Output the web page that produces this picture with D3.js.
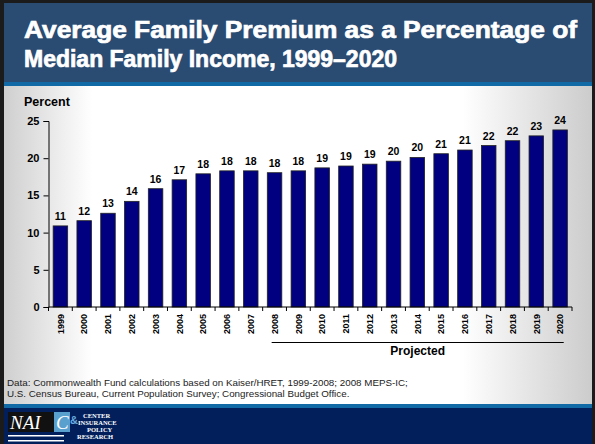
<!DOCTYPE html>
<html>
<head>
<meta charset="utf-8">
<script src="https://cdn.jsdelivr.net/npm/d3@7"></script>
<style>
  html, body { margin: 0; padding: 0; background: #1a1a1a; }
  svg { display: block; }
  text { font-family: "Liberation Sans", Arial, sans-serif; }
</style>
</head>
<body>
<script>
// Average family premium as % of median family income, by year
const years = ["1999","2000","2001","2002","2003","2004","2005","2006","2007","2008","2009",
               "2010","2011","2012","2013","2014","2015","2016","2017","2018","2019","2020"];
const premiumPct = [10.9, 11.6, 12.6, 14.2, 15.9, 17.1, 17.9, 18.3, 18.3, 18.05, 18.3,
                    18.7, 18.95, 19.2, 19.6, 20.1, 20.6, 21.1, 21.7, 22.35, 23.0, 23.8];
const yTicks = [0, 5, 10, 15, 20, 25];
const projectedFrom = "2008";
const projectedTo = "2020";

const titleLines = ["Average Family Premium as a Percentage of", "Median Family Income, 1999\u20132020"];
const sourceLines = [
  "Data: Commonwealth Fund calculations based on Kaiser/HRET, 1999-2008; 2008 MEPS-IC;",
  "U.S. Census Bureau, Current Population Survey; Congressional Budget Office."
];

const W = 595, H = 444;
const svg = d3.select("body").append("svg").attr("width", W).attr("height", H);
const defs = svg.append("defs");

// Slide frame
svg.append("rect").attr("width", W).attr("height", H).attr("fill", "#1b1b1b");

const bg = defs.append("linearGradient").attr("id", "bodyGrad").attr("x1", 0).attr("x2", 1).attr("y1", 0).attr("y2", 0);
[[0, "#cfcfcf"], [0.15, "#ffffff"], [0.78, "#ffffff"], [1, "#cccccc"]].forEach(([o, c]) =>
  bg.append("stop").attr("offset", o).attr("stop-color", c));

svg.append("rect").attr("x", 4).attr("y", 86).attr("width", 588).attr("height", 318).attr("fill", "url(#bodyGrad)");

// Title band
svg.append("rect").attr("x", 4).attr("y", 3).attr("width", 588).attr("height", 79).attr("fill", "#2a4b72");
svg.append("rect").attr("x", 4).attr("y", 82).attr("width", 588).attr("height", 4).attr("fill", "#1169a6");

const titleBaselines = [38, 67];
const titleWidths = [553, 373];
titleLines.forEach((t, i) => {
  svg.append("text").attr("x", 24).attr("y", titleBaselines[i])
    .attr("fill", "#fff").attr("stroke", "#fff").attr("stroke-width", 0.7)
    .attr("font-size", 23).attr("font-weight", "bold")
    .attr("textLength", titleWidths[i]).attr("lengthAdjust", "spacingAndGlyphs")
    .text(t);
});

// Footer band
svg.append("rect").attr("x", 4).attr("y", 404).attr("width", 588).attr("height", 4).attr("fill", "#1169a6");
svg.append("rect").attr("x", 4).attr("y", 408).attr("width", 588).attr("height", 36).attr("fill", "#021f5c");

// Footer logo
const logo = svg.append("g").attr("transform", "translate(8,412)");
logo.append("rect").attr("x", 0).attr("y", 0).attr("width", 46).attr("height", 20).attr("fill", "#111");
logo.append("rect").attr("x", 46).attr("y", 0).attr("width", 16).attr("height", 20).attr("fill", "#5aa0cf");
logo.append("text").attr("x", 2).attr("y", 17).attr("fill", "#fff").attr("font-size", 19)
  .attr("font-style", "italic").style("font-family", "'Liberation Serif', serif").text("NAI");
logo.append("text").attr("x", 48).attr("y", 17).attr("fill", "#fff").attr("font-size", 19)
  .attr("font-style", "italic").style("font-family", "'Liberation Serif', serif").text("C");
logo.append("text").attr("x", 62).attr("y", 12).attr("fill", "#6aaee0").attr("font-size", 11)
  .attr("font-weight", "bold").text("&");
const logoWords = [["CENTER", 75, 6], ["INSURANCE", 70, 13], ["POLICY", 79, 20], ["RESEARCH", 69, 27]];
logoWords.forEach(([w, x, y]) => logo.append("text").attr("x", x).attr("y", y).attr("fill", "#fff")
  .attr("font-size", 6.5).attr("font-weight", "bold").style("font-family", "'Liberation Serif', serif").text(w));
logo.append("rect").attr("x", 0).attr("y", 23).attr("width", 56).attr("height", 1.5).attr("fill", "#fff");
logo.append("rect").attr("x", 0).attr("y", 28).attr("width", 56).attr("height", 1.5).attr("fill", "#fff");

// Source note
sourceLines.forEach((t, i) => {
  svg.append("text").attr("x", 7).attr("y", 386 + i * 11).attr("fill", "#222")
    .attr("font-size", 9.8).text(t);
});

// Chart
const x0 = 48.5, x1 = 572, yBase = 307, yTop = 121;
const x = d3.scaleBand().domain(years).range([x0, x1]).paddingInner(0.39).paddingOuter(0.195);
const y = d3.scaleLinear().domain([0, 25]).range([yBase, yTop]);
const step = (x1 - x0) / years.length;

const chart = svg.append("g");

// Y axis
const yAxis = chart.append("g").attr("transform", `translate(${x0},0)`)
  .call(d3.axisLeft(y).tickValues(yTicks).tickSize(5).tickPadding(4).tickFormat(d3.format("d")));
yAxis.select(".domain").attr("stroke", "#000").attr("stroke-width", 1);
yAxis.selectAll(".tick line").attr("stroke", "#000");
yAxis.selectAll(".tick text").attr("font-size", 11).attr("font-weight", "bold").attr("fill", "#000")
  .style("font-family", "'Liberation Sans', Arial, sans-serif");

chart.append("text").attr("x", 24).attr("y", 106).attr("font-size", 12.5).attr("font-weight", "bold")
  .attr("fill", "#000").text("Percent");

// Bars
const data = years.map((yr, i) => ({ yr, v: premiumPct[i] }));
chart.selectAll("rect.bar").data(data).join("rect").attr("class", "bar")
  .attr("x", d => x(d.yr)).attr("width", x.bandwidth())
  .attr("y", d => y(d.v)).attr("height", d => y(0) - y(d.v))
  .attr("fill", "#000080").attr("stroke", "#222").attr("stroke-width", 0.8);

// Value labels
chart.selectAll("text.val").data(data).join("text").attr("class", "val")
  .attr("x", d => x(d.yr) + x.bandwidth() / 2).attr("y", d => y(d.v) - 6)
  .attr("text-anchor", "middle").attr("font-size", 10.5).attr("font-weight", "bold").attr("fill", "#000")
  .text(d => d3.format(".0f")(d.v));

// X axis line with ticks at category boundaries
chart.append("line").attr("x1", x0).attr("x2", x1).attr("y1", yBase).attr("y2", yBase)
  .attr("stroke", "#000").attr("stroke-width", 1);
chart.selectAll("line.xt").data(d3.range(years.length + 1)).join("line").attr("class", "xt")
  .attr("x1", i => x0 + i * step).attr("x2", i => x0 + i * step)
  .attr("y1", yBase).attr("y2", yBase + 4).attr("stroke", "#000");

chart.selectAll("text.xl").data(years).join("text").attr("class", "xl")
  .attr("transform", d => `translate(${x(d) + x.bandwidth() / 2 + 3.3},314) rotate(-90)`)
  .attr("text-anchor", "end").attr("font-size", 9).attr("font-weight", "bold").attr("fill", "#000")
  .text(d => d);

// Projected bracket
const px1 = x(projectedFrom) + x.bandwidth() * 0.3;
const px2 = x(projectedTo) + x.bandwidth() * 0.75;
chart.append("line").attr("x1", px1).attr("x2", px2).attr("y1", 342.5).attr("y2", 342.5)
  .attr("stroke", "#000").attr("stroke-width", 1.2);
chart.append("text").attr("x", (px1 + px2) / 2).attr("y", 355).attr("text-anchor", "middle")
  .attr("font-size", 12).attr("font-weight", "bold").attr("fill", "#000").text("Projected");
</script>
</body>
</html>
